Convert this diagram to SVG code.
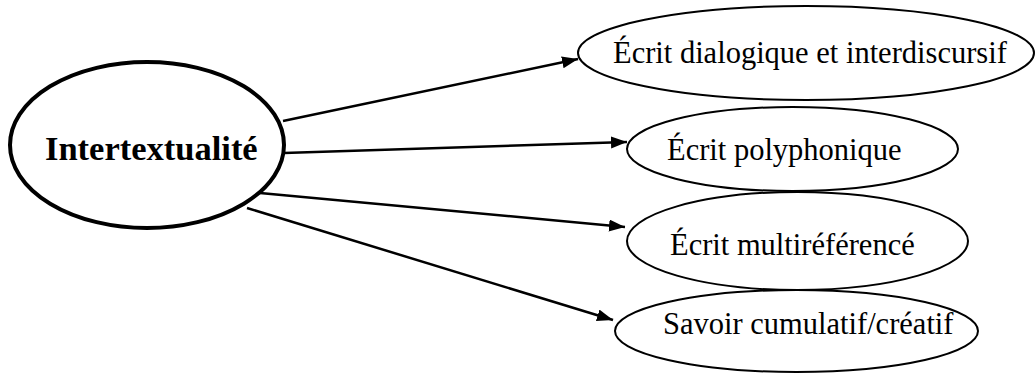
<svg xmlns="http://www.w3.org/2000/svg" width="1035" height="374" viewBox="0 0 1035 374">
  <style>
    .main { fill: #fff; stroke: #000; stroke-width: 4; }
    .leaf { fill: #fff; stroke: #000; stroke-width: 2; }
    .edge { fill: none; stroke: #000; stroke-width: 2.5; marker-end: url(#arrow); }
    .t { font-family: "Liberation Serif", "Times New Roman", serif; font-size: 30.5px; fill: #000; }
    .tb { font-family: "Liberation Serif", "Times New Roman", serif; font-size: 34.5px; font-weight: bold; fill: #000; }
  </style>
  <defs>
    <marker id="arrow" markerUnits="userSpaceOnUse" markerWidth="18" markerHeight="14" refX="16" refY="6" orient="auto">
      <path d="M0,0 L16,6 L0,12 z" fill="#000"/>
    </marker>
  </defs>
  <rect width="1035" height="374" fill="#fff"/>
  <g id="connectors">
    <line class="edge" x1="283" y1="121" x2="578" y2="59"/>
    <line class="edge" x1="284" y1="153" x2="627" y2="142"/>
    <line class="edge" x1="260" y1="193" x2="625" y2="227"/>
    <line class="edge" x1="247" y1="208" x2="613" y2="320"/>
  </g>
  <g id="n0">
    <ellipse class="main" cx="147" cy="145" rx="137" ry="83"/>
    <text class="tb" x="45" y="160">Intertextualité</text>
  </g>
  <g id="n1">
    <ellipse class="leaf" cx="806" cy="53" rx="228" ry="47"/>
    <text class="t" x="613" y="63">Écrit dialogique et interdiscursif</text>
  </g>
  <g id="n2">
    <ellipse class="leaf" cx="792.5" cy="149" rx="165.5" ry="42"/>
    <text class="t" x="667" y="160">Écrit polyphonique</text>
  </g>
  <g id="n3">
    <ellipse class="leaf" cx="797.5" cy="241" rx="170.5" ry="49"/>
    <text class="t" x="670" y="255">Écrit multiréférencé</text>
  </g>
  <g id="n4">
    <ellipse class="leaf" cx="796.5" cy="331" rx="181.5" ry="41"/>
    <text class="t" x="663" y="334">Savoir cumulatif/créatif</text>
  </g>
</svg>
